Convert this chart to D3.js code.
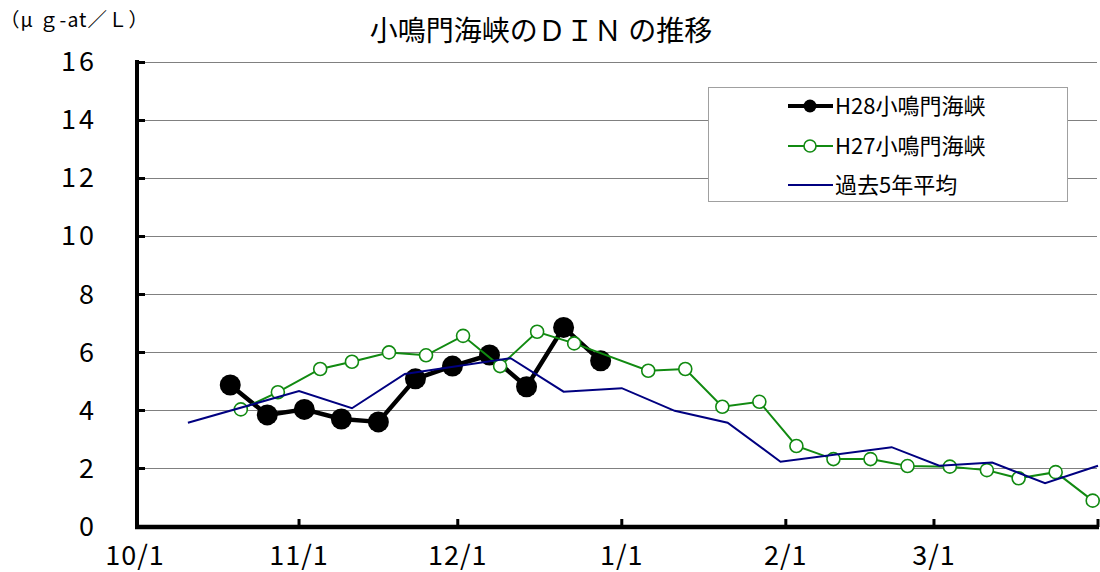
<!DOCTYPE html>
<html>
<head>
<meta charset="utf-8">
<script src="https://cdn.jsdelivr.net/npm/d3@7"></script>
<style>
  html, body { margin: 0; padding: 0; background: #fff; }
  svg { display: block; font-family: "Noto Sans CJK JP", "Noto Sans", sans-serif; }
  .num { font-family: "Liberation Sans Narrow", "Noto Sans CJK JP", sans-serif; }
</style>
</head>
<body>
<svg id="chart" width="1100" height="572"></svg>
<script>
// ── data ───────────────────────────────────────────────────────
const TITLE = '小鳴門海峡のＤＩＮ の推移';
const UNIT = '（μ ｇ-at／Ｌ）';
const X_TICKS = ['2016-10-01', '2016-11-01', '2016-12-01', '2017-01-01', '2017-02-01', '2017-03-01', '2017-04-01'];
const X_TICK_LABELS = ['10/1', '11/1', '12/1', '1/1', '2/1', '3/1', ''];
const Y_TICKS = [0, 2, 4, 6, 8, 10, 12, 14, 16];

const SERIES_NAMES = ['H28小鳴門海峡', 'H27小鳴門海峡', '過去5年平均'];

// H28 (black, filled dots)
const H28_DATES = ['2016-10-19', '2016-10-26', '2016-11-02', '2016-11-09', '2016-11-16', '2016-11-23',
  '2016-11-30', '2016-12-07', '2016-12-14', '2016-12-21', '2016-12-28'];
const H28_VALUES = [4.87, 3.84, 4.03, 3.70, 3.60, 5.08, 5.52, 5.90, 4.81, 6.85, 5.70];

// H27 (green, open circles) — plotted on the same Oct→Mar axis
const H27_DATES = ['2016-10-21', '2016-10-28', '2016-11-05', '2016-11-11', '2016-11-18', '2016-11-25',
  '2016-12-02', '2016-12-09', '2016-12-16', '2016-12-23', '2017-01-06', '2017-01-13', '2017-01-20',
  '2017-01-27', '2017-02-03', '2017-02-10', '2017-02-17', '2017-02-24', '2017-03-04', '2017-03-11',
  '2017-03-17', '2017-03-24', '2017-03-31'];
const H27_VALUES = [4.03, 4.62, 5.42, 5.67, 5.99, 5.89, 6.56, 5.52, 6.70, 6.30, 5.36, 5.42, 4.12,
  4.29, 2.77, 2.32, 2.32, 2.08, 2.06, 1.94, 1.66, 1.87, 0.89];

// 過去5年平均 (navy line, no markers)
const AVG_DATES = ['2016-10-11', '2016-11-01', '2016-11-11', '2016-11-21', '2016-12-11', '2016-12-21',
  '2017-01-01', '2017-01-11', '2017-01-21', '2017-01-31', '2017-02-21', '2017-03-02', '2017-03-12',
  '2017-03-22', '2017-04-01'];
const AVG_VALUES = [3.57, 4.66, 4.07, 5.25, 5.79, 4.64, 4.76, 3.98, 3.57, 2.23, 2.73, 2.09, 2.20, 1.49, 2.09];

// ── layout ────────────────────────────────────────────────────
const parse = d3.timeParse('%Y-%m-%d');
const svg = d3.select('#chart');
const x = d3.scaleTime()
  .domain([parse('2016-10-01'), parse('2017-04-01')])
  .range([135, 1098]);
const y = d3.scaleLinear().domain([0, 16]).range([526.5, 61.5]);
const axisX = 137, axisY = 527, right = 1097;

const zip = (ds, vs) => ds.map((d, i) => ({ date: parse(d), value: vs[i] }));
const h28 = zip(H28_DATES, H28_VALUES);
const h27 = zip(H27_DATES, H27_VALUES);
const avg = zip(AVG_DATES, AVG_VALUES);

// gridlines
svg.append('g').selectAll('line').data(Y_TICKS.filter((t) => t > 0)).join('line')
  .attr('x1', axisX).attr('x2', right)
  .attr('y1', (d) => Math.round(y(d)) + 0.5).attr('y2', (d) => Math.round(y(d)) + 0.5)
  .attr('stroke', '#808080').attr('stroke-width', 1);

// title + unit
svg.append('text').attr('x', 541).attr('y', 41).attr('text-anchor', 'middle')
  .attr('font-size', 28).attr('fill', '#000').text(TITLE);
svg.append('text').attr('x', 0).attr('y', 27)
  .attr('font-size', 19.5).attr('letter-spacing', 1).attr('fill', '#000').text(UNIT);

// series — black first, green over it, navy average on top
const line = d3.line().x((d) => x(d.date)).y((d) => y(d.value));

svg.append('path').datum(h28).attr('d', line)
  .attr('fill', 'none').attr('stroke', '#000').attr('stroke-width', 4.5).attr('stroke-linejoin', 'round');
svg.append('g').selectAll('circle').data(h28).join('circle')
  .attr('cx', (d) => x(d.date)).attr('cy', (d) => y(d.value)).attr('r', 10.5).attr('fill', '#000');

svg.append('path').datum(h27).attr('d', line)
  .attr('fill', 'none').attr('stroke', '#118a11').attr('stroke-width', 2);
svg.append('g').selectAll('circle').data(h27).join('circle')
  .attr('cx', (d) => x(d.date)).attr('cy', (d) => y(d.value)).attr('r', 6.5)
  .attr('fill', '#fff').attr('stroke', '#118a11').attr('stroke-width', 1.6);

svg.append('path').datum(avg).attr('d', line)
  .attr('fill', 'none').attr('stroke', '#000080').attr('stroke-width', 2);

// axes
const ax = svg.append('g');
ax.append('line').attr('x1', axisX).attr('x2', axisX).attr('y1', 60).attr('y2', axisY + 2)
  .attr('stroke', '#000').attr('stroke-width', 4);
ax.append('line').attr('x1', axisX - 2).attr('x2', 1099).attr('y1', axisY).attr('y2', axisY)
  .attr('stroke', '#000').attr('stroke-width', 4.5);
ax.selectAll('.yt').data(Y_TICKS.filter((t) => t > 0)).join('line')
  .attr('x1', axisX).attr('x2', 145)
  .attr('y1', (d) => Math.round(y(d)) + 0.5).attr('y2', (d) => Math.round(y(d)) + 0.5)
  .attr('stroke', '#000').attr('stroke-width', 3);
ax.selectAll('.xt').data(X_TICKS.slice(1)).join('line')
  .attr('x1', (d) => x(parse(d))).attr('x2', (d) => x(parse(d)))
  .attr('y1', axisY).attr('y2', 519)
  .attr('stroke', '#000').attr('stroke-width', 3);

ax.selectAll('.yl').data(Y_TICKS).join('text').attr('class', 'num')
  .attr('x', 97).attr('y', (d) => y(d) + 9.5)
  .attr('text-anchor', 'end').attr('font-size', 27).attr('letter-spacing', 3)
  .attr('fill', '#000').text((d) => d);
ax.selectAll('.xl').data(X_TICKS).join('text').attr('class', 'num')
  .attr('x', (d) => x(parse(d))).attr('y', 565)
  .attr('text-anchor', 'middle').attr('font-size', 27).attr('letter-spacing', 1)
  .attr('fill', '#000').text((d, i) => X_TICK_LABELS[i]);

// legend
const lg = svg.append('g');
lg.append('rect').attr('x', 708.5).attr('y', 87.5).attr('width', 359).attr('height', 114)
  .attr('fill', '#fff').attr('stroke', '#a0a0a0').attr('stroke-width', 1);
const rows = [106, 146, 185];
const styles = [
  { stroke: '#000', width: 4, marker: 'fill' },
  { stroke: '#118a11', width: 2, marker: 'open' },
  { stroke: '#000080', width: 2, marker: null },
];
SERIES_NAMES.forEach((name, i) => {
  const s = styles[i], cy = rows[i];
  lg.append('line').attr('x1', 788).attr('x2', 833).attr('y1', cy).attr('y2', cy)
    .attr('stroke', s.stroke).attr('stroke-width', s.width);
  if (s.marker === 'fill') {
    lg.append('circle').attr('cx', 810).attr('cy', cy).attr('r', 6.5).attr('fill', '#000');
  } else if (s.marker === 'open') {
    lg.append('circle').attr('cx', 810).attr('cy', cy).attr('r', 6).attr('fill', '#fff')
      .attr('stroke', s.stroke).attr('stroke-width', 1.6);
  }
  lg.append('text').attr('x', 835).attr('y', cy + 8).attr('font-size', 22)
    .attr('fill', '#000').text(name);
});
</script>
</body>
</html>
